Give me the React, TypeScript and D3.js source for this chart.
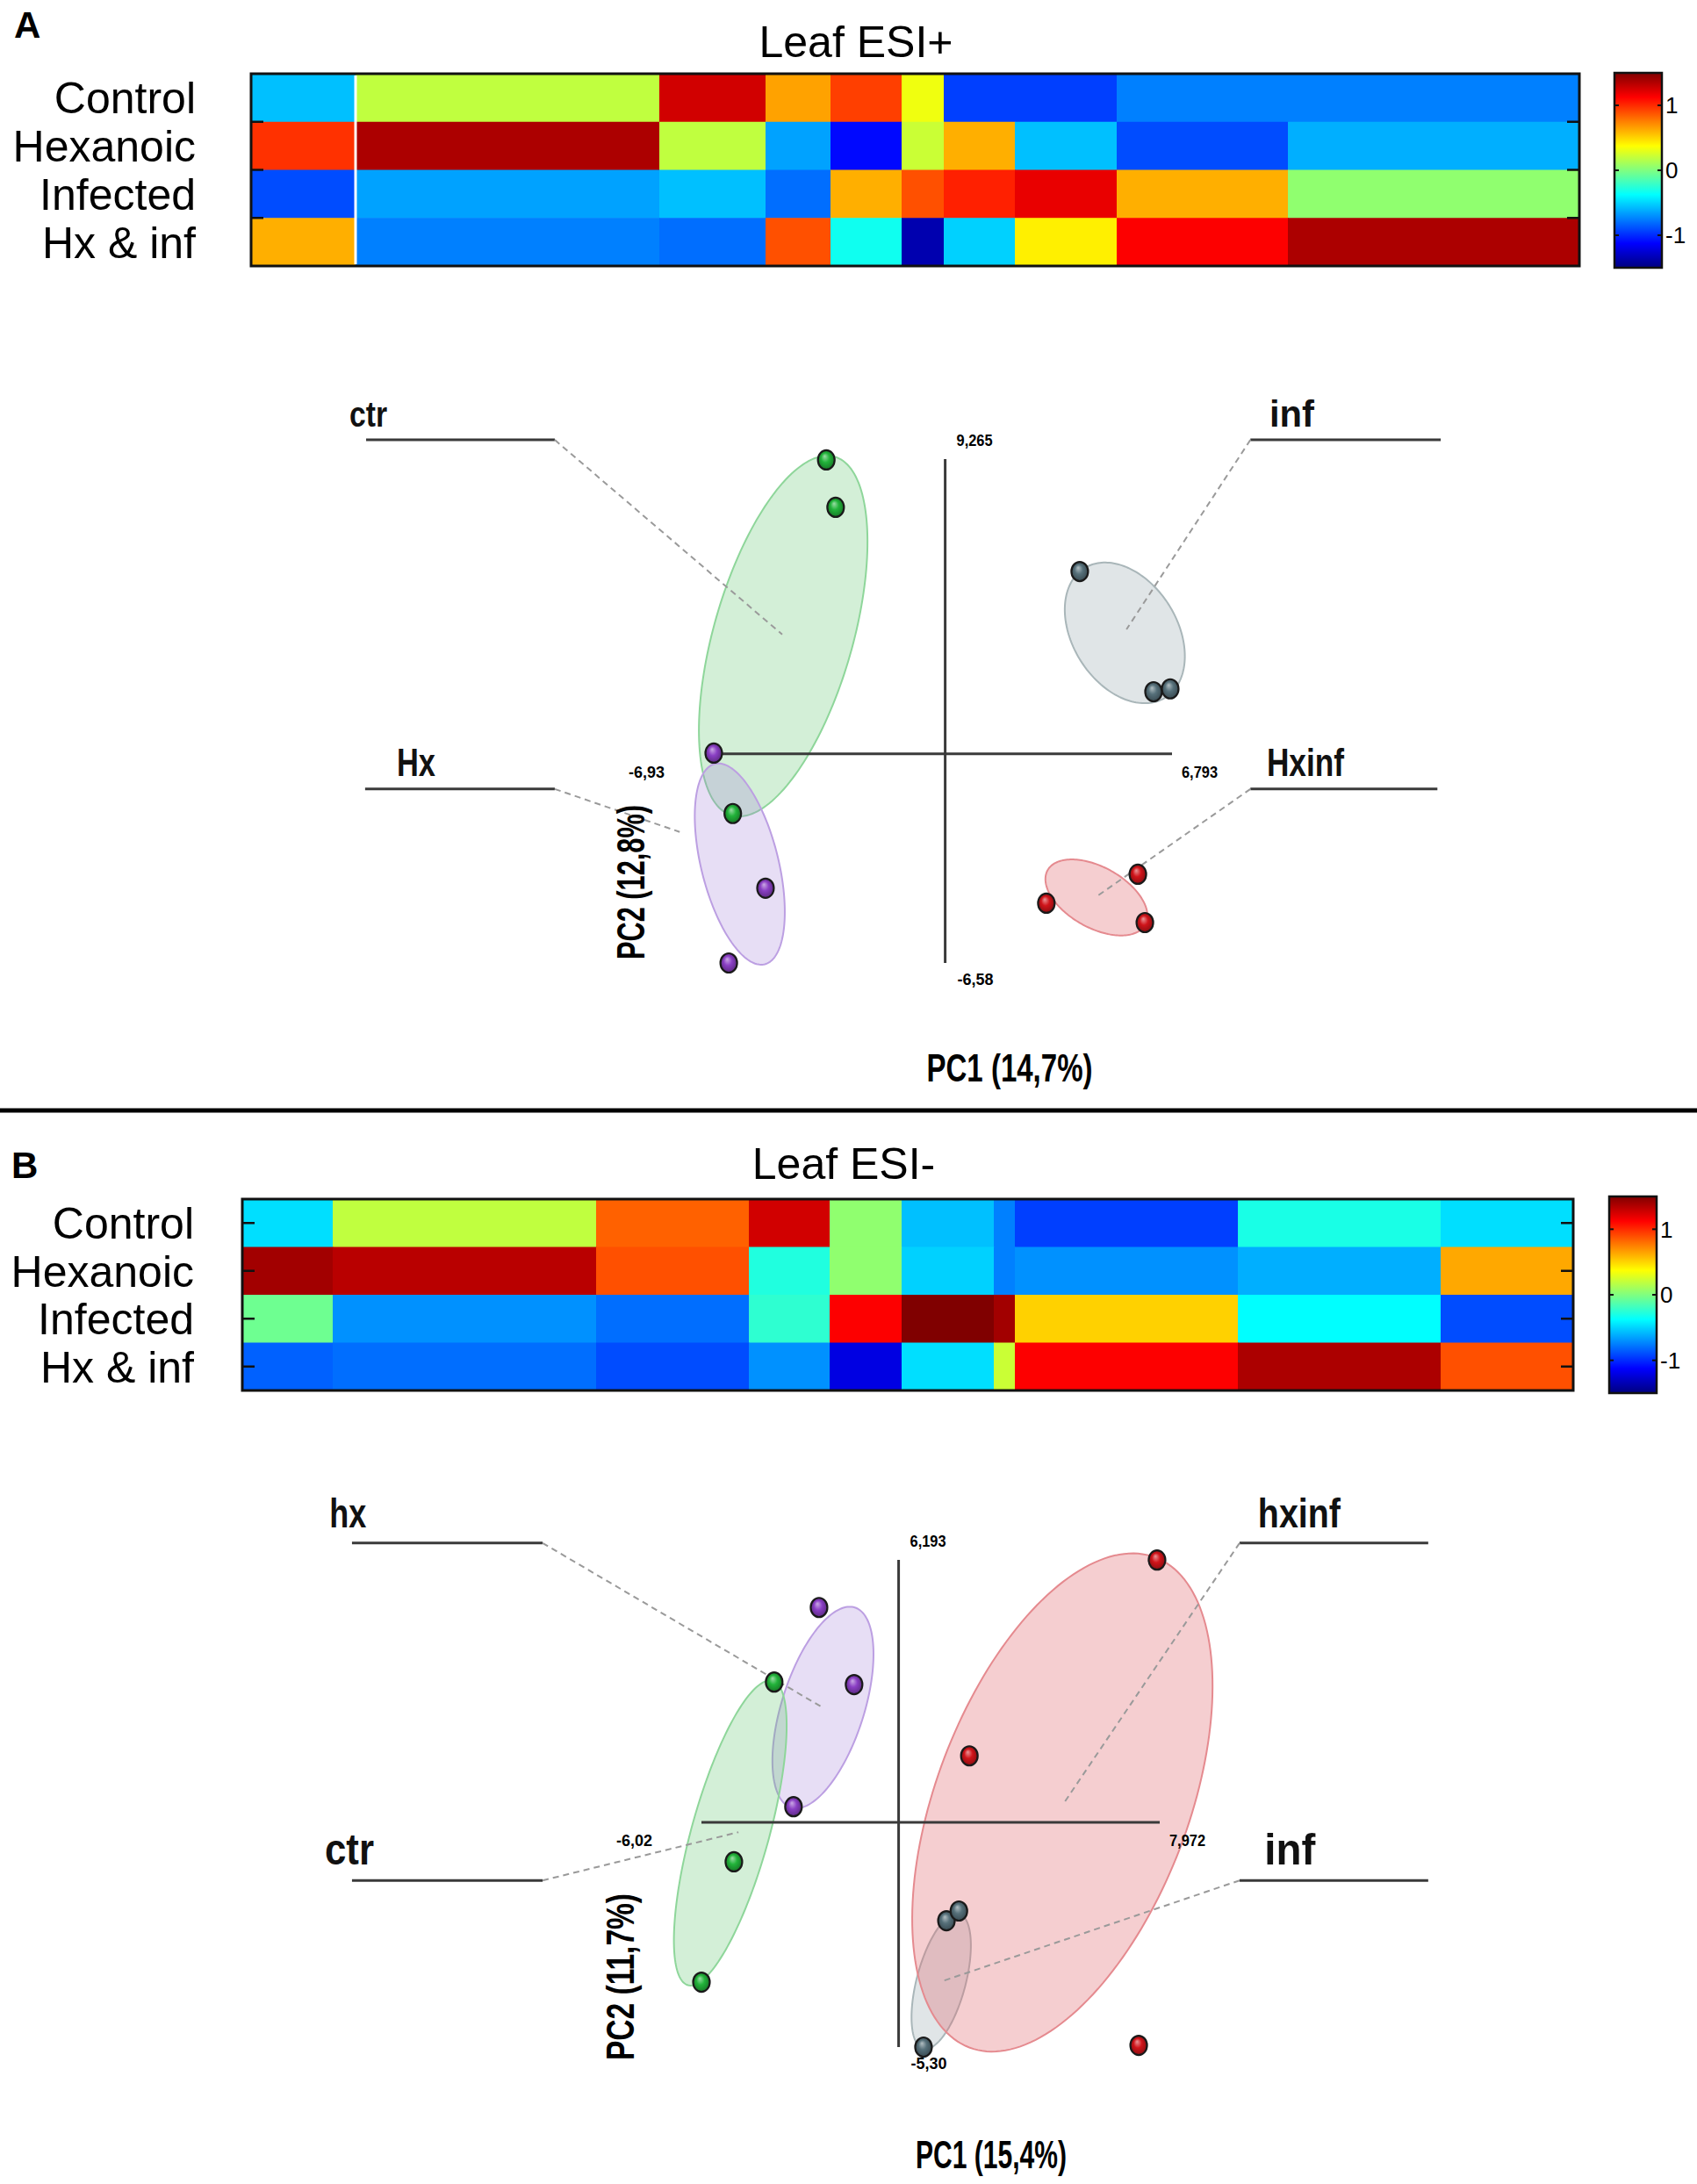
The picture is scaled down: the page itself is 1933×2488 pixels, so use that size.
import { useEffect, useRef } from "react";
import * as d3 from "d3";

const W = 1933;
const H = 2488;

// heatmap rows and colour bar ticks
const ROWS = ["Control", "Hexanoic", "Infected", "Hx & inf"];
const CB_TICKS = [1, 0, -1];

// Leaf ESI+ : relative width of each column block, scaled intensity per row
const ESIP_WIDTHS = [11.9, 34.6, 12.1, 7.4, 8.1, 4.8, 8.1, 11.6, 19.5, 33.2];
const ESIP_VALUES = [
  [-0.56, 0.19, 1.26, 0.65, 0.94, 0.33, -0.94, -0.94, -0.75, -0.75],
  [0.98, 1.37, 0.19, -0.65, -1.1, 0.22, 0.61, -0.56, -0.9, -0.61],
  [-0.9, -0.65, -0.56, -0.8, 0.61, 0.89, 1.03, 1.19, 0.61, 0.05],
  [0.61, -0.75, -0.8, 0.89, -0.33, -1.36, -0.51, 0.42, 1.13, 1.37],
];

// Leaf ESI-
const ESIM_WIDTHS = [10.3, 30.0, 17.4, 9.2, 8.2, 10.5, 2.4, 25.4, 23.1, 15.1];
const ESIM_VALUES = [
  [-0.47, 0.19, 0.84, 1.26, 0.05, -0.56, -0.75, -0.94, -0.3, -0.47],
  [1.4, 1.33, 0.89, -0.28, 0.05, -0.51, -0.75, -0.7, -0.61, 0.63],
  [-0.05, -0.7, -0.8, -0.24, 1.13, 1.5, 1.4, 0.51, -0.375, -0.9],
  [-0.84, -0.8, -0.9, -0.7, -1.21, -0.47, 0.22, 1.13, 1.37, 0.89],
];

type Pt = [number, number];

// PCA scores, Leaf ESI+ (PC1, PC2)
const ESIP_GROUPS = ["ctr", "hx", "inf", "hxinf"];
const ESIP_CTR: Pt[] = [[-3.56, 9.24], [-3.28, 7.75], [-6.36, -1.88]];
const ESIP_HX: Pt[] = [[-6.93, 0.02], [-5.38, -4.23], [-6.48, -6.58]];
const ESIP_INF: Pt[] = [[4.03, 5.73], [6.24, 1.95], [6.74, 2.04]];
const ESIP_HXINF: Pt[] = [[5.77, -3.79], [3.03, -4.7], [5.98, -5.31]];
// confidence ellipses: centre and two conjugate semi-axes
const ESIP_ELLIPSES = [
  { c: [-4.85, 3.7], u: [1.54, 5.64], v: [2.0, -0.6] },
  { c: [-6.15, -3.47], u: [-0.75, 3.15], v: [1.12, 0.3] },
  { c: [5.38, 3.8], u: [-1.22, 2.03], v: [1.32, 0.88] },
  { c: [4.53, -4.52], u: [1.46, -0.86], v: [-0.45, -0.83] },
];
const ESIP_EXTENT = [-6.93, 6.793, -6.58, 9.265];
const ESIP_EXTENT_LABELS = ["-6,93", "6,793", "-6,58", "9,265"];
const ESIP_AXIS_TITLES = ["PC1 (14,7%)", "PC2 (12,8%)"];
const ESIP_NOTES = [
  { text: "ctr", lx: -17.84, x0: -17.34, x1: -11.69, y: 9.87, ex: -4.88, ey: 3.75 },
  { text: "inf", lx: 9.71, x0: 9.14, x1: 14.84, y: 9.87, ex: 5.43, ey: 3.91 },
  { text: "Hx", lx: -16.42, x0: -17.37, x1: -11.69, y: -1.11, ex: -7.95, ey: -2.46 },
  { text: "Hxinf", lx: 9.63, x0: 9.14, x1: 14.74, y: -1.11, ex: 4.59, ey: -4.45 },
];

// PCA scores, Leaf ESI-
const ESIM_GROUPS = ["hx", "ctr", "inf", "hxinf"];
const ESIM_HX: Pt[] = [[-2.43, 5.07], [-1.36, 3.25], [-3.21, 0.37]];
const ESIM_CTR: Pt[] = [[-3.8, 3.31], [-5.03, -0.93], [-6.02, -3.77]];
const ESIM_INF: Pt[] = [[0.76, -5.3], [1.46, -2.32], [1.84, -2.09]];
const ESIM_HXINF: Pt[] = [[7.89, 6.19], [2.16, 1.57], [7.33, -5.26]];
const ESIM_ELLIPSES = [
  { c: [-2.31, 2.71], u: [0.97, 2.36], v: [1.2, -0.29] },
  { c: [-5.14, -0.25], u: [1.29, 3.59], v: [1.14, -0.24] },
  { c: [1.3, -3.75], u: [0.55, 1.59], v: [0.72, -0.15] },
  { c: [5.0, 0.47], u: [2.84, 5.78], v: [3.6, -1.06] },
];
const ESIM_EXTENT = [-6.02, 7.972, -5.3, 6.193];
const ESIM_EXTENT_LABELS = ["-6,02", "7,972", "-5,30", "6,193"];
const ESIM_AXIS_TITLES = ["PC1 (15,4%)", "PC2 (11,7%)"];
const ESIM_NOTES = [
  { text: "hx", lx: -17.38, x0: -16.69, x1: -10.87, y: 6.59, ex: -2.32, ey: 2.71 },
  { text: "hxinf", lx: 10.97, x0: 10.41, x1: 16.17, y: 6.59, ex: 5.05, ey: 0.46 },
  { text: "ctr", lx: -17.52, x0: -16.69, x1: -10.87, y: -1.37, ex: -4.89, ey: -0.23 },
  { text: "inf", lx: 11.17, x0: 10.41, x1: 16.17, y: -1.37, ex: 1.32, ey: -3.75 },
];

const GROUP_STYLE: Record<string, { fill: string; op: number; stroke: string; ball: string }> = {
  ctr: { fill: "#5cc46a", op: 0.27, stroke: "#8ed69a", ball: "#22b33a" },
  hx: { fill: "#a07ad6", op: 0.25, stroke: "#bc9fe2", ball: "#8a3fc4" },
  inf: { fill: "#8fa3a8", op: 0.28, stroke: "#a9b6b9", ball: "#56707a" },
  hxinf: { fill: "#e06a70", op: 0.33, stroke: "#e58a8f", ball: "#d0141a" },
};

const FONT = "'Liberation Sans', Arial, Helvetica, sans-serif";

// MATLAB-like jet colormap
function jet(t: number) {
  const c = (v: number) => Math.round(255 * Math.max(0, Math.min(1, v)));
  return `rgb(${c(1.5 - Math.abs(4 * t - 3))},${c(1.5 - Math.abs(4 * t - 2))},${c(
    1.5 - Math.abs(4 * t - 1)
  )})`;
}

type Sel = d3.Selection<SVGSVGElement, unknown, null, undefined>;

function drawHeatmap(svg: Sel, cfg: any) {
  const { x0, x1, y0, y1, widths, values, edgeTicks, separators, cb, title, letter, labelGap } = cfg;
  const starts = [0, ...Array.from(d3.cumsum(widths))];
  const x = d3.scaleLinear().domain([0, d3.sum(widths)]).range([x0, x1]);
  const y = d3.scaleBand<string>().domain(ROWS).range([y0, y1]);
  const color = d3.scaleSequential(jet).domain([-1.5, 1.5]).clamp(true);
  const g = svg.append("g");

  // panel letter and title
  g.append("text")
    .attr("x", letter.x)
    .attr("y", letter.y)
    .attr("font-family", FONT)
    .attr("font-weight", "bold")
    .attr("font-size", 42)
    .text(letter.text);
  g.append("text")
    .attr("x", title.x)
    .attr("y", title.y)
    .attr("text-anchor", "middle")
    .attr("font-family", FONT)
    .attr("font-size", 50)
    .text(title.text);

  // cells
  ROWS.forEach((row, i) => {
    values[i].forEach((v: number, j: number) => {
      g.append("rect")
        .attr("x", x(starts[j]))
        .attr("y", y(row)!)
        .attr("width", x(starts[j + 1]) - x(starts[j]) + 0.6)
        .attr("height", y.bandwidth() + 0.6)
        .attr("fill", color(v));
    });
    g.append("text")
      .attr("x", x0 - labelGap)
      .attr("y", y(row)! + y.bandwidth() / 2 + 18)
      .attr("text-anchor", "end")
      .attr("font-family", FONT)
      .attr("font-size", 50)
      .text(row);
  });

  separators.forEach((k: number) => {
    g.append("line")
      .attr("x1", x(starts[k]))
      .attr("x2", x(starts[k]))
      .attr("y1", y0 + 2)
      .attr("y2", y1 - 2)
      .attr("stroke", "#fff")
      .attr("stroke-width", 3);
  });

  // row ticks
  const tickYs = edgeTicks
    ? ROWS.slice(1).map((r) => y(r)!)
    : ROWS.map((r) => y(r)! + y.bandwidth() / 2);
  tickYs.forEach((ty) => {
    [
      [x0, x0 + 14],
      [x1 - 14, x1],
    ].forEach(([a, b]) => {
      g.append("line")
        .attr("x1", a)
        .attr("x2", b)
        .attr("y1", ty)
        .attr("y2", ty)
        .attr("stroke", "#111")
        .attr("stroke-width", 2.5);
    });
  });

  g.append("rect")
    .attr("x", x0)
    .attr("y", y0)
    .attr("width", x1 - x0)
    .attr("height", y1 - y0)
    .attr("fill", "none")
    .attr("stroke", "#111")
    .attr("stroke-width", 3);

  // colour bar
  const cy = d3.scaleLinear().domain([-1.5, 1.5]).range([cb.y1, cb.y0]);
  g.append("rect")
    .attr("x", cb.x0)
    .attr("y", cb.y0)
    .attr("width", cb.x1 - cb.x0)
    .attr("height", cb.y1 - cb.y0)
    .attr("fill", "url(#jet)")
    .attr("stroke", "#111")
    .attr("stroke-width", 2.5);
  CB_TICKS.forEach((t) => {
    g.append("line")
      .attr("x1", cb.x1 - 5)
      .attr("x2", cb.x1)
      .attr("y1", cy(t))
      .attr("y2", cy(t))
      .attr("stroke", "#111")
      .attr("stroke-width", 2);
    g.append("line")
      .attr("x1", cb.x0)
      .attr("x2", cb.x0 + 5)
      .attr("y1", cy(t))
      .attr("y2", cy(t))
      .attr("stroke", "#111")
      .attr("stroke-width", 2);
    g.append("text")
      .attr("x", cb.x1 + 4)
      .attr("y", cy(t))
      .attr("dy", "0.36em")
      .attr("font-family", FONT)
      .attr("font-size", 26)
      .text(t);
  });
}

function drawPca(svg: Sel, cfg: any) {
  const { groups, scores, ellipses, extent, extentLabels, titles, notes, xr, yr, labelStyle, raise, titlePos } = cfg;
  const [xmin, xmax, ymin, ymax] = extent;
  const x = d3.scaleLinear().domain([xmin, xmax]).range(xr);
  const y = d3.scaleLinear().domain([ymin, ymax]).range(yr);
  const g = svg.append("g");

  // ellipses
  const ts = d3.range(0, Math.PI * 2, Math.PI / 90);
  const outline = d3.line().curve(d3.curveLinearClosed);
  ellipses.forEach((e: any, i: number) => {
    const st = GROUP_STYLE[groups[i]];
    const pts: [number, number][] = ts.map((t) => [
      x(e.c[0] + e.u[0] * Math.cos(t) + e.v[0] * Math.sin(t)),
      y(e.c[1] + e.u[1] * Math.cos(t) + e.v[1] * Math.sin(t)),
    ]);
    g.append("path")
      .attr("d", outline(pts))
      .attr("fill", st.fill)
      .attr("fill-opacity", st.op)
      .attr("stroke", st.stroke)
      .attr("stroke-width", 2);
  });

  // axes cross
  g.append("line")
    .attr("x1", x(xmin))
    .attr("x2", x(xmax))
    .attr("y1", y(0))
    .attr("y2", y(0))
    .attr("stroke", "#3a3a3a")
    .attr("stroke-width", 3);
  g.append("line")
    .attr("x1", x(0))
    .attr("x2", x(0))
    .attr("y1", y(ymax))
    .attr("y2", y(ymin))
    .attr("stroke", "#3a3a3a")
    .attr("stroke-width", 3);

  const small = (tx: number, ty: number, s: string, anchor: string) =>
    g
      .append("text")
      .attr("x", tx)
      .attr("y", ty)
      .attr("text-anchor", anchor)
      .attr("font-family", FONT)
      .attr("font-weight", "bold")
      .attr("font-size", 19)
      .attr("textLength", 41)
      .attr("lengthAdjust", "spacingAndGlyphs")
      .text(s);
  small(x(xmin) - 56, y(0) + 27, extentLabels[0], "end");
  small(x(xmax) + 11, y(0) + 27, extentLabels[1], "start");
  small(x(0) + 14, y(ymin) + 25, extentLabels[2], "start");
  small(x(0) + 13, y(ymax) - 15, extentLabels[3], "start");

  // annotation lines
  notes.forEach((n: any) => {
    const inner = Math.abs(n.x0) < Math.abs(n.x1) ? n.x0 : n.x1;
    g.append("line")
      .attr("x1", x(n.x0))
      .attr("x2", x(n.x1))
      .attr("y1", y(n.y))
      .attr("y2", y(n.y))
      .attr("stroke", "#3a3a3a")
      .attr("stroke-width", 3);
    g.append("line")
      .attr("x1", x(inner))
      .attr("y1", y(n.y))
      .attr("x2", x(n.ex))
      .attr("y2", y(n.ey))
      .attr("stroke", "#9a9a9a")
      .attr("stroke-width", 2)
      .attr("stroke-dasharray", "7 5");
    const ls = labelStyle[n.text];
    g.append("text")
      .attr("x", x(n.lx))
      .attr("y", y(n.y) - raise)
      .attr("font-family", FONT)
      .attr("font-weight", "bold")
      .attr("font-size", ls.fs)
      .attr("textLength", ls.w)
      .attr("lengthAdjust", "spacingAndGlyphs")
      .attr("fill", "#111")
      .text(n.text);
  });

  // score points
  scores.forEach((pts: Pt[], i: number) => {
    pts.forEach((p) => {
      g.append("ellipse")
        .attr("cx", x(p[0]))
        .attr("cy", y(p[1]))
        .attr("rx", 9.5)
        .attr("ry", 11)
        .attr("fill", `url(#ball-${groups[i]})`)
        .attr("stroke", "#1a1a1a")
        .attr("stroke-width", 2.2);
    });
  });

  // axis titles
  g.append("text")
    .attr("x", titlePos.pc1[0])
    .attr("y", titlePos.pc1[1])
    .attr("text-anchor", "middle")
    .attr("font-family", FONT)
    .attr("font-weight", "bold")
    .attr("font-size", 44)
    .attr("textLength", titlePos.pc1[2])
    .attr("lengthAdjust", "spacingAndGlyphs")
    .text(titles[0]);
  g.append("text")
    .attr("transform", `translate(${titlePos.pc2[0]},${titlePos.pc2[1]}) rotate(-90)`)
    .attr("text-anchor", "middle")
    .attr("font-family", FONT)
    .attr("font-weight", "bold")
    .attr("font-size", 44)
    .attr("textLength", titlePos.pc2[2])
    .attr("lengthAdjust", "spacingAndGlyphs")
    .text(titles[1]);
}

export default function App() {
  const ref = useRef<SVGSVGElement>(null);

  useEffect(() => {
    if (!ref.current) return;
    const svg = d3.select(ref.current);
    svg.selectAll("*").remove();

    const defs = svg.append("defs");
    const jg = defs
      .append("linearGradient")
      .attr("id", "jet")
      .attr("x1", 0)
      .attr("y1", 1)
      .attr("x2", 0)
      .attr("y2", 0);
    d3.range(0, 1.0001, 0.025).forEach((t) => {
      jg.append("stop").attr("offset", t).attr("stop-color", jet(t));
    });
    Object.entries(GROUP_STYLE).forEach(([k, st]) => {
      const base = d3.color(st.ball)!;
      const rg = defs
        .append("radialGradient")
        .attr("id", `ball-${k}`)
        .attr("cx", "50%")
        .attr("cy", "50%")
        .attr("r", "55%")
        .attr("fx", "40%")
        .attr("fy", "30%");
      rg.append("stop").attr("offset", 0).attr("stop-color", d3.interpolateRgb(st.ball, "#fff")(0.55));
      rg.append("stop").attr("offset", 0.45).attr("stop-color", st.ball);
      rg.append("stop").attr("offset", 1).attr("stop-color", base.darker(1.3).formatHex());
    });

    svg.append("rect").attr("width", W).attr("height", H).attr("fill", "#fff");

    drawHeatmap(svg, {
      x0: 286,
      x1: 1799,
      y0: 84,
      y1: 303,
      widths: ESIP_WIDTHS,
      values: ESIP_VALUES,
      edgeTicks: true,
      separators: [1],
      labelGap: 63,
      cb: { x0: 1839, x1: 1893, y0: 83, y1: 305 },
      title: { text: "Leaf ESI+", x: 975, y: 65 },
      letter: { text: "A", x: 16, y: 43 },
    });

    drawPca(svg, {
      groups: ESIP_GROUPS,
      scores: [ESIP_CTR, ESIP_HX, ESIP_INF, ESIP_HXINF],
      ellipses: ESIP_ELLIPSES,
      extent: ESIP_EXTENT,
      extentLabels: ESIP_EXTENT_LABELS,
      titles: ESIP_AXIS_TITLES,
      notes: ESIP_NOTES,
      xr: [813, 1335],
      yr: [1097, 523],
      raise: 15,
      labelStyle: {
        ctr: { fs: 40, w: 43 },
        inf: { fs: 42, w: 51 },
        Hx: { fs: 44, w: 44 },
        Hxinf: { fs: 44, w: 88 },
      },
      titlePos: { pc1: [1150, 1232, 189], pc2: [734, 1005, 176] },
    });

    // divider between panels
    svg
      .append("line")
      .attr("x1", 0)
      .attr("x2", W)
      .attr("y1", 1265)
      .attr("y2", 1265)
      .attr("stroke", "#000")
      .attr("stroke-width", 5);

    drawHeatmap(svg, {
      x0: 276,
      x1: 1792,
      y0: 1366,
      y1: 1584,
      widths: ESIM_WIDTHS,
      values: ESIM_VALUES,
      edgeTicks: false,
      separators: [],
      labelGap: 55,
      cb: { x0: 1833, x1: 1887, y0: 1363, y1: 1587 },
      title: { text: "Leaf ESI-", x: 961, y: 1343 },
      letter: { text: "B", x: 13, y: 1342 },
    });

    drawPca(svg, {
      groups: ESIM_GROUPS,
      scores: [ESIM_HX, ESIM_CTR, ESIM_INF, ESIM_HXINF],
      ellipses: ESIM_ELLIPSES,
      extent: ESIM_EXTENT,
      extentLabels: ESIM_EXTENT_LABELS,
      titles: ESIM_AXIS_TITLES,
      notes: ESIM_NOTES,
      xr: [799, 1321],
      yr: [2332, 1777],
      raise: 18,
      labelStyle: {
        hx: { fs: 46, w: 42 },
        hxinf: { fs: 46, w: 94 },
        ctr: { fs: 50, w: 56 },
        inf: { fs: 50, w: 58 },
      },
      titlePos: { pc1: [1129, 2470, 172], pc2: [722, 2252, 190] },
    });
  }, []);

  return (
    <svg
      ref={ref}
      width={W}
      height={H}
      viewBox={`0 0 ${W} ${H}`}
      style={{ position: "absolute", left: 0, top: 0, display: "block" }}
    />
  );
}
